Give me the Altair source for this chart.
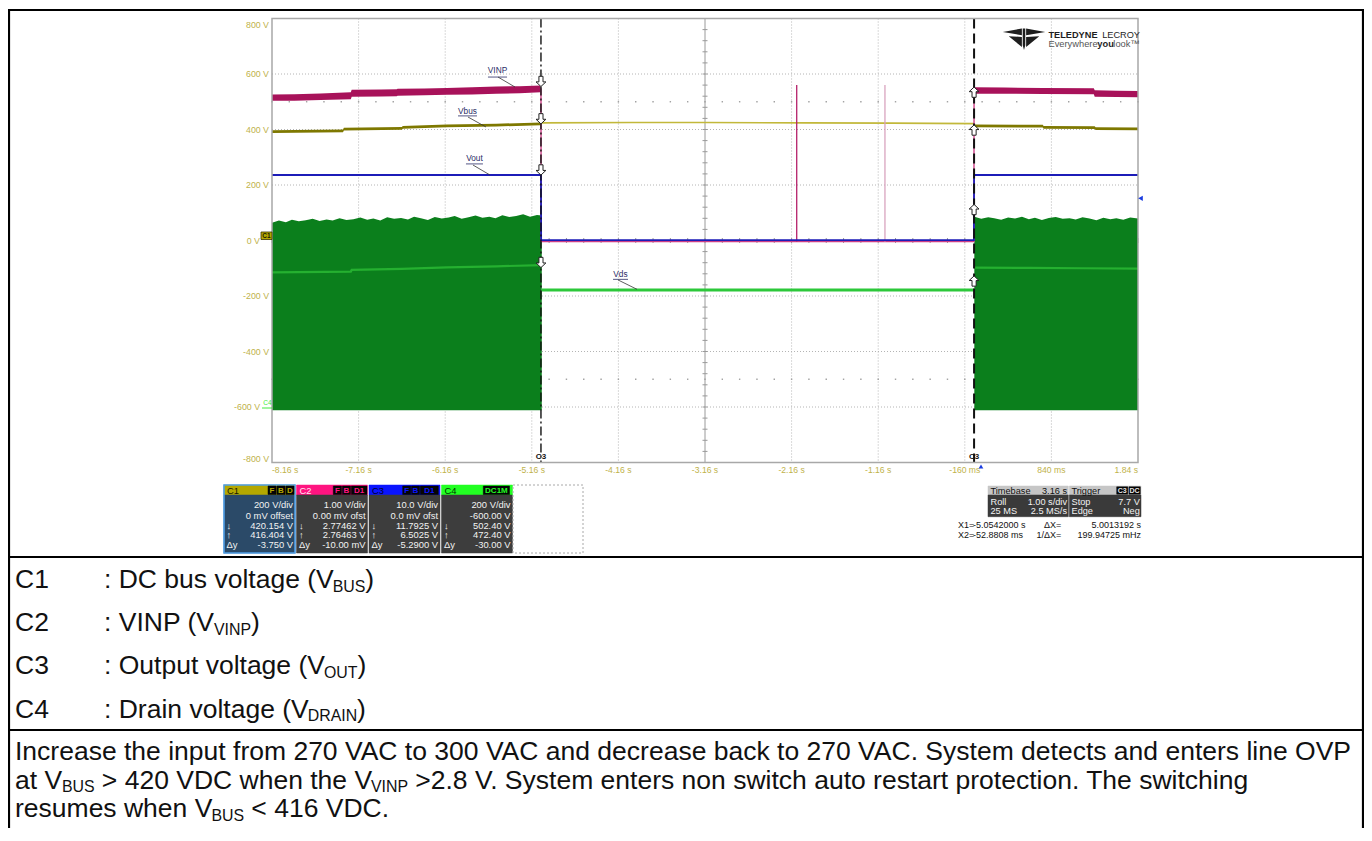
import altair as alt
import pandas as pd
import numpy as np

OFF = 8
CW, CH = 1356, 820

# ---------------- axis ticks ----------------
X_TICKS = [-8.16, -7.16, -6.16, -5.16, -4.16, -3.16, -2.16, -1.16, -0.16, 0.84, 1.84]
X_LABELS = ["-8.16 s", "-7.16 s", "-6.16 s", "-5.16 s", "-4.16 s", "-3.16 s",
            "-2.16 s", "-1.16 s", "-160 ms", "840 ms", "1.84 s"]
Y_TICKS = [800, 600, 400, 200, 0, -200, -400, -600, -800]
Y_LABELS = ["800 V", "600 V", "400 V", "200 V", "0 V", "-200 V", "-400 V", "-600 V", "-800 V"]

# ---------------- cursors ----------------
CURSOR_T = [-5.0542, -0.0528808]
X1_MARKS = [554.9, 420.2, 235.9, -97.6]     # C2, C1, C3, C4 at X1
X2_MARKS = [552.9, 416.4, 130.0, -127.6]    # C2, C1, C3, C4 at X2

# ---------------- C2 : VINP ----------------
VINP_PRE_T = [-8.16, -7.90, -7.60, -7.25, -7.24, -6.90, -6.72, -6.71, -6.40, -6.14, -5.85, -5.57, -5.30, -5.06]
VINP_PRE_LO = [504, 504, 506, 509, 518, 519, 520, 522, 523, 525, 526, 529, 531, 534]
VINP_PRE_HI = [526, 527, 530, 534, 543, 544, 545, 547, 548, 550, 552, 555, 556, 559]
VINP_OFF_T = [-5.06, -5.054, -5.052, -0.055, -0.053, -0.05]
VINP_OFF_V = [546, 546, -4, -4, 541, 541]
VINP_SPIKE_T = [-2.101, -1.082]
VINP_SPIKE_V = [560, 560]
VINP_POST_T = [-0.05, 0.30, 0.74, 1.33, 1.34, 1.60, 1.84]
VINP_POST_LO = [529, 529, 528, 527, 518, 517, 516]
VINP_POST_HI = [552, 551, 550, 549, 541, 540, 539]

# ---------------- C1 : Vbus ----------------
VBUS_PRE_T = [-8.16, -7.34, -7.33, -6.66, -6.65, -6.14, -5.57, -5.06]
VBUS_PRE_LO = [387, 390, 396, 399, 403, 408, 411, 415]
VBUS_PRE_HI = [397, 400, 406, 409, 413, 418, 421, 425]
VBUS_OFF_T = [-5.054, -4.0, -3.16, -2.0, -1.0, -0.053]
VBUS_OFF_V = [424, 425, 425, 424, 423, 421]
VBUS_POST_T = [-0.053, 0.74, 0.75, 1.34, 1.35, 1.84]
VBUS_POST_LO = [408, 407, 403, 402, 398, 397]
VBUS_POST_HI = [418, 417, 413, 412, 408, 407]

# ---------------- C3 : Vout ----------------
VOUT_T = [-8.16, -5.0542, -5.0520, -0.0550, -0.0529, 1.84]
VOUT_V = [236, 236, 1, 1, 236, 236]

# ---------------- C4 : Vds ----------------
VDS_FLOOR = -612
VDS_PRE_T = [-8.16, -8.08, -8.00, -7.93, -7.85, -7.77, -7.69, -7.61, -7.53, -7.46, -7.38,
             -7.30, -7.22, -7.14, -7.06, -6.99, -6.91, -6.83, -6.75, -6.67, -6.59, -6.52,
             -6.44, -6.36, -6.28, -6.20, -6.12, -6.05, -5.97, -5.89, -5.81, -5.73, -5.65,
             -5.58, -5.50, -5.42, -5.34, -5.26, -5.18, -5.10, -5.045]
VDS_PRE_TOP = [64, 72, 66, 75, 69, 73, 78, 70, 76, 72, 80, 74, 77, 83, 75, 79, 72, 84, 78, 81,
               76, 86, 80, 74, 85, 79, 83, 88, 78, 84, 90, 82, 86, 80, 91, 85, 88, 95, 86, 92, 90]
VDS_PRE_MID_T = [-8.16, -7.25, -7.24, -6.66, -6.14, -5.57, -5.045]
VDS_PRE_MID_V = [-115, -112, -106, -102, -97, -93, -89]
VDS_OFF_T = [-5.045, -0.055]
VDS_OFF_V = [-178, -178]
VDS_POST_T = [-0.05, 0.03, 0.11, 0.18, 0.26, 0.34, 0.42, 0.50, 0.58, 0.65, 0.73, 0.81, 0.89,
              0.97, 1.05, 1.12, 1.20, 1.28, 1.36, 1.44, 1.52, 1.59, 1.67, 1.75, 1.84]
VDS_POST_TOP = [86, 78, 84, 80, 75, 83, 79, 86, 77, 82, 74, 81, 85, 78, 80, 76, 84, 79, 73, 82,
                77, 80, 75, 83, 79]
VDS_POST_MID_T = [-0.05, 0.6, 1.2, 1.84]
VDS_POST_MID_V = [-98, -99, -100, -101]

# ---------------- trace labels ----------------
TRACE_NAMES = ["VINP", "Vbus", "Vout", "Vds"]
TRACE_LABEL_T = [-5.556, -5.902, -5.822, -4.136]
TRACE_LABEL_V = [611, 463, 294, -124]
UNDER_T0 = [-5.666, -6.012, -5.920, -4.222]
UNDER_T1 = [-5.446, -5.793, -5.724, -4.049]
UNDER_V = [589, 449, 276, -140]
LEAD_T0 = [-5.550, -5.897, -5.839, -4.165]
LEAD_V0 = [589, 445, 272, -142]
LEAD_T1 = [-5.354, -5.689, -5.643, -3.945]
LEAD_V1 = [553, 409, 236, -176]

# ---------------- info boxes ----------------
CH_NAMES = ["C1", "C2", "C3", "C4"]
CH_TAGS = [["F", "B", "D"], ["F", "B", "D1"], ["F", "B", "D1"], ["DC1M"]]
CH_ROWS = [["200 V/div", "0 mV offset", "420.154 V", "416.404 V", "-3.750 V"],
           ["1.00 V/div", "0.00 mV ofst", "2.77462 V", "2.76463 V", "-10.00 mV"],
           ["10.0 V/div", "0.0 mV ofst", "11.7925 V", "6.5025 V", "-5.2900 V"],
           ["200 V/div", "-600.00 V", "502.40 V", "472.40 V", "-30.00 V"]]
ROW_SYMS = ["", "", "\u2193", "\u2191", "\u0394y"]
TB_ROWS = [("Timebase", "3.16 s"), ("Roll", "1.00 s/div"), ("25 MS", "2.5 MS/s")]
TRIG_ROWS = [("Trigger", ""), ("Stop", "7.7 V"), ("Edge", "Neg")]
TRIG_TAGS = ["C3", "DC"]
CURSOR_ROWS = [("X1=", "-5.0542000 s", "\u0394X=", "5.0013192 s"),
               ("X2=", "-52.8808 ms", "1/\u0394X=", "199.94725 mHz")]

# ---------------- document text ----------------
LEG_CH = ["C1", "C2", "C3", "C4"]
LEG_MAIN = [": DC bus voltage (V", ": VINP (V", ": Output voltage (V", ": Drain voltage (V"]
LEG_SUB = ["BUS", "VINP", "OUT", "DRAIN"]
PARA = [
    [("Increase the input from 270 VAC to 300 VAC and decrease back to 270 VAC. System detects and enters line OVP", False)],
    [("at V", False), ("BUS", True), (" > 420 VDC when the V", False), ("VINP", True),
     (" >2.8 V. System enters non switch auto restart protection. The switching", False)],
    [("resumes when V", False), ("BUS", True), (" < 416 VDC.", False)],
]

# =====================================================================
AW = {' ': 278, '!': 278, '(': 333, ')': 333, ',': 278, '-': 333, '.': 278, '/': 278, ':': 278,
      '<': 584, '=': 584, '>': 584,
      'A': 667, 'B': 667, 'C': 722, 'D': 722, 'E': 667, 'F': 611, 'G': 778, 'H': 722, 'I': 278,
      'J': 500, 'K': 667, 'L': 556, 'M': 833, 'N': 722, 'O': 778, 'P': 667, 'Q': 778, 'R': 722,
      'S': 667, 'T': 611, 'U': 722, 'V': 667, 'W': 944, 'X': 667, 'Y': 667, 'Z': 611,
      'a': 556, 'b': 556, 'c': 500, 'd': 556, 'e': 556, 'f': 278, 'g': 556, 'h': 556, 'i': 222,
      'j': 222, 'k': 500, 'l': 222, 'm': 833, 'n': 556, 'o': 556, 'p': 556, 'q': 556, 'r': 333,
      's': 500, 't': 278, 'u': 556, 'v': 500, 'w': 722, 'x': 500, 'y': 500, 'z': 500}
KREN = 0.995   # rendered / nominal advance ratio observed


def em(s, bold=False):
    w = sum(AW.get(c, 556) for c in s) / 1000.0 * KREN
    return w * (1.07 if bold else 1.0)


FONT = "Liberation Sans"
XS = alt.Scale(domain=[-8.16, 1.84], range=[272 - OFF, 1138 - OFF], nice=False, zero=False)
YS = alt.Scale(domain=[-800, 800], range=[462.5 - OFF, 18.5 - OFF], nice=False, zero=False)


def X(f):
    return alt.X(f, type="quantitative", scale=XS, axis=None)


def Y(f):
    return alt.Y(f, type="quantitative", scale=YS, axis=None)


def PX(f):
    return alt.X(f, type="quantitative", scale=None, axis=None)


def PY(f):
    return alt.Y(f, type="quantitative", scale=None, axis=None)


def ptext(rows, size, align="left", baseline="middle", weight="normal", font=FONT):
    df = pd.DataFrame(rows, columns=["x", "y", "t", "c"])
    df["x"] = df["x"] - OFF
    df["y"] = df["y"] - OFF
    return alt.Chart(df).mark_text(font=font, fontSize=size, align=align, baseline=baseline,
                                   fontWeight=weight).encode(
        x=PX("x"), y=PY("y"), text="t:N", color=alt.Color("c:N", scale=None))


def prects(rows, sw=1, dash=None):
    df = pd.DataFrame(rows, columns=["x0", "y0", "x1", "y1", "f", "s"])
    for c in ["x0", "x1", "y0", "y1"]:
        df[c] = df[c] - OFF
    kw = dict(strokeWidth=sw)
    if dash:
        kw["strokeDash"] = dash
    return alt.Chart(df).mark_rect(**kw).encode(
        x=PX("x0"), x2="x1:Q", y=PY("y0"), y2="y1:Q",
        fill=alt.Fill("f:N", scale=None), stroke=alt.Stroke("s:N", scale=None))


def prules(rows, sw=1, dash=None):
    df = pd.DataFrame(rows, columns=["x0", "y0", "x1", "y1", "c"])
    for c in ["x0", "x1", "y0", "y1"]:
        df[c] = df[c] - OFF
    kw = dict(strokeWidth=sw)
    if dash:
        kw["strokeDash"] = dash
    return alt.Chart(df).mark_rule(**kw).encode(
        x=PX("x0"), x2="x1:Q", y=PY("y0"), y2="y1:Q", color=alt.Color("c:N", scale=None))


L = []

# ---------------- grid ----------------
GRID = "#B4B4B4"
L.append(alt.Chart(pd.DataFrame({"t": [t for t in X_TICKS[1:-1] if t != -3.16]})).mark_rule(
    color=GRID, strokeWidth=1, strokeDash=[1, 2]).encode(
    x=X("t"), y=alt.value(18.5 - OFF), y2=alt.value(462.5 - OFF)))
L.append(alt.Chart(pd.DataFrame({"v": [v for v in Y_TICKS[1:-1] if v != 0]})).mark_rule(
    color=GRID, strokeWidth=1, strokeDash=[1, 2]).encode(
    y=Y("v"), x=alt.value(272 - OFF), x2=alt.value(1138 - OFF)))
L.append(alt.Chart(pd.DataFrame({"t": [-3.16]})).mark_rule(color="#9A9A9A", strokeWidth=1).encode(
    x=X("t"), y=alt.value(18.5 - OFF), y2=alt.value(462.5 - OFF)))
L.append(alt.Chart(pd.DataFrame({"v": [0]})).mark_rule(color="#9A9A9A", strokeWidth=1).encode(
    y=Y("v"), x=alt.value(272 - OFF), x2=alt.value(1138 - OFF)))
tick_v = np.arange(-800, 801, 40)
L.append(alt.Chart(pd.DataFrame({"t": -3.16, "v": tick_v})).mark_rule(
    color="#9A9A9A", strokeWidth=1, xOffset=-2.5, x2Offset=2.5).encode(x=X("t"), x2="t:Q", y=Y("v")))
tick_t = np.round(np.arange(-8.16, 1.85, 0.2), 3)
L.append(alt.Chart(pd.DataFrame({"t": tick_t, "v": 0})).mark_rule(
    color="#9A9A9A", strokeWidth=1, yOffset=-2.5, y2Offset=2.5).encode(x=X("t"), y=Y("v"), y2="v:Q"))
dots = pd.DataFrame([(t, v) for v in (500, -500) for t in tick_t], columns=["t", "v"])
L.append(alt.Chart(dots).mark_square(size=2, color="#A0A0A0", opacity=1).encode(x=X("t"), y=Y("v")))

# ---------------- C4 Vds ----------------
GREEN = "#0B7F1C"
for tt, top in ((VDS_PRE_T, VDS_PRE_TOP), (VDS_POST_T, VDS_POST_TOP)):
    df = pd.DataFrame({"t": tt, "top": top, "lo": VDS_FLOOR})
    L.append(alt.Chart(df).mark_area(color=GREEN, opacity=1).encode(x=X("t"), y=Y("lo"), y2="top:Q"))
for tt, vv in ((VDS_PRE_MID_T, VDS_PRE_MID_V), (VDS_POST_MID_T, VDS_POST_MID_V)):
    L.append(alt.Chart(pd.DataFrame({"t": tt, "v": vv})).mark_line(color="#25B030", strokeWidth=2.2).encode(
        x=X("t"), y=Y("v")))
L.append(alt.Chart(pd.DataFrame({"t": VDS_OFF_T, "v": VDS_OFF_V})).mark_line(
    color="#2CC83A", strokeWidth=3).encode(x=X("t"), y=Y("v")))

# ---------------- C1 Vbus ----------------
OLIVE = "#7E7800"
for tt, lo, hi in ((VBUS_PRE_T, VBUS_PRE_LO, VBUS_PRE_HI), (VBUS_POST_T, VBUS_POST_LO, VBUS_POST_HI)):
    df = pd.DataFrame({"t": tt, "lo": lo, "hi": hi})
    L.append(alt.Chart(df).mark_area(color=OLIVE, opacity=1).encode(x=X("t"), y=Y("lo"), y2="hi:Q"))
L.append(alt.Chart(pd.DataFrame({"t": VBUS_OFF_T, "v": VBUS_OFF_V})).mark_line(
    color="#C2B83A", strokeWidth=1.6).encode(x=X("t"), y=Y("v")))

# ---------------- C2 VINP ----------------
CRIMSON = "#A8125A"
for tt, lo, hi in ((VINP_PRE_T, VINP_PRE_LO, VINP_PRE_HI), (VINP_POST_T, VINP_POST_LO, VINP_POST_HI)):
    df = pd.DataFrame({"t": tt, "lo": lo, "hi": hi})
    L.append(alt.Chart(df).mark_area(color=CRIMSON, opacity=1).encode(x=X("t"), y=Y("lo"), y2="hi:Q"))
L.append(alt.Chart(pd.DataFrame({"t": VINP_OFF_T, "v": VINP_OFF_V})).mark_line(
    color="#CC3F86", strokeWidth=1.4).encode(x=X("t"), y=Y("v")))
L.append(alt.Chart(pd.DataFrame({"t": VINP_SPIKE_T, "v": VINP_SPIKE_V, "z": [-4, -4],
                                 "c": ["#B5206A", "#D9A3BE"]})).mark_rule(strokeWidth=1.3).encode(
    x=X("t"), y=Y("z"), y2="v:Q", color=alt.Color("c:N", scale=None)))

# ---------------- C3 Vout ----------------
L.append(alt.Chart(pd.DataFrame({"t": VOUT_T, "v": VOUT_V})).mark_line(
    color="#1C1CB8", strokeWidth=1.8).encode(x=X("t"), y=Y("v")))

# ---------------- cursors ----------------
L.append(alt.Chart(pd.DataFrame({"t": [CURSOR_T[0]]})).mark_rule(
    color="#111111", strokeWidth=1.4, strokeDash=[9, 3, 2, 3]).encode(
    x=X("t"), y=alt.value(18.5 - OFF), y2=alt.value(462.5 - OFF)))
L.append(alt.Chart(pd.DataFrame({"t": [CURSOR_T[1]]})).mark_rule(
    color="#111111", strokeWidth=2, strokeDash=[10, 5]).encode(
    x=X("t"), y=alt.value(18.5 - OFF), y2=alt.value(462.5 - OFF)))
DOWN = "M-0.2,-1 L0.2,-1 L0.2,-0.45 L0.48,-0.45 L0,0 L-0.48,-0.45 L-0.2,-0.45 Z"
UP = "M-0.2,1 L0.2,1 L0.2,0.45 L0.48,0.45 L0,0 L-0.48,0.45 L-0.2,0.45 Z"
L.append(alt.Chart(pd.DataFrame({"t": CURSOR_T[0], "v": X1_MARKS})).mark_point(
    shape=DOWN, size=420, filled=True, fill="white", stroke="#222222", strokeWidth=1, opacity=1).encode(
    x=X("t"), y=Y("v")))
L.append(alt.Chart(pd.DataFrame({"t": CURSOR_T[1], "v": X2_MARKS})).mark_point(
    shape=UP, size=420, filled=True, fill="white", stroke="#222222", strokeWidth=1, opacity=1).encode(
    x=X("t"), y=Y("v")))
L.append(alt.Chart(pd.DataFrame({"t": CURSOR_T, "lab": ["C3", "C3"]})).mark_text(
    font=FONT, fontSize=8, fontWeight="bold", color="#111111", baseline="middle").encode(
    x=X("t"), y=alt.value(456.5 - OFF), text="lab:N"))

# ---------------- trace name labels ----------------
lab = pd.DataFrame({"name": TRACE_NAMES, "t": TRACE_LABEL_T, "v": TRACE_LABEL_V,
                    "u0": UNDER_T0, "u1": UNDER_T1, "uv": UNDER_V,
                    "l0": LEAD_T0, "lv0": LEAD_V0, "l1": LEAD_T1, "lv1": LEAD_V1})
LABC = "#2A2C66"
L.append(alt.Chart(lab).mark_text(font=FONT, fontSize=8.3, color=LABC, baseline="middle").encode(
    x=X("t"), y=Y("v"), text="name:N"))
L.append(alt.Chart(lab).mark_rule(color=LABC, strokeWidth=0.8).encode(x=X("u0"), x2="u1:Q", y=Y("uv")))
L.append(alt.Chart(lab).mark_rule(color="#333333", strokeWidth=0.8).encode(
    x=X("l0"), x2="l1:Q", y=Y("lv0"), y2="lv1:Q"))

# ---------------- plot frame ----------------
L.append(prects([(272, 18.5, 1138, 462.5, "transparent", "#A8A8A8")], sw=1.5))

# ---------------- axis labels ----------------
YLC = "#C0B24A"
ydf = pd.DataFrame({"v": Y_TICKS, "lab": Y_LABELS})
L.append(alt.Chart(ydf[~ydf.v.isin([800, -800, 0, -600])]).mark_text(
    font=FONT, fontSize=8.8, color=YLC, align="right", baseline="middle").encode(
    x=alt.value(269 - OFF), y=Y("v"), text="lab:N"))
L.append(alt.Chart(ydf[ydf.v.isin([0, -600])]).mark_text(
    font=FONT, fontSize=8.8, color=YLC, align="right", baseline="middle").encode(
    x=alt.value(260 - OFF), y=Y("v"), text="lab:N"))
L.append(alt.Chart(ydf[ydf.v == 800]).mark_text(
    font=FONT, fontSize=8.8, color=YLC, align="right", baseline="middle", dy=6).encode(
    x=alt.value(269 - OFF), y=Y("v"), text="lab:N"))
L.append(alt.Chart(ydf[ydf.v == -800]).mark_text(
    font=FONT, fontSize=8.8, color=YLC, align="right", baseline="middle", dy=-4).encode(
    x=alt.value(269 - OFF), y=Y("v"), text="lab:N"))
xdf = pd.DataFrame({"t": X_TICKS, "lab": X_LABELS})
for sub, al in ((xdf.iloc[:1], "left"), (xdf.iloc[1:-1], "center"), (xdf.iloc[-1:], "right")):
    L.append(alt.Chart(sub).mark_text(font=FONT, fontSize=8.6, color=YLC, align=al, baseline="middle").encode(
        x=X("t"), y=alt.value(470 - OFF), text="lab:N"))

# channel markers on the left axis
L.append(prects([(261, 232, 272, 239.5, "#B4A800", "#3A3500")], sw=0.8))
L.append(ptext([(266.5, 236, "C1", "#1A1A00")], 6.5, align="center", weight="bold"))
L.append(ptext([(267.5, 403, "C4", "#3EEB3E")], 6.5, align="center"))
L.append(prules([(262, 408, 272, 408, "#3EEB3E")], sw=1))

# trigger markers
tri = pd.DataFrame({"x": [1140.5 - OFF], "y": [198.3 - OFF]})
L.append(alt.Chart(tri).mark_point(shape="triangle-left", size=28, filled=True, color="#1A3CE0",
                                   opacity=1).encode(x=PX("x"), y=PY("y")))
tri2 = pd.DataFrame({"x": [981 - OFF], "y": [466.5 - OFF]})
L.append(alt.Chart(tri2).mark_point(shape="triangle-up", size=22, filled=True, color="#1A3CE0",
                                    opacity=1).encode(x=PX("x"), y=PY("y")))

# ---------------- logo ----------------
LOGO = ("M-1,-0.33 L-0.1,-0.5 L-0.1,-0.18 Z M-0.72,-0.13 L-0.1,-0.1 L-0.1,0.38 Z "
        "M1,-0.33 L0.1,-0.5 L0.1,-0.18 Z M0.72,-0.13 L0.1,-0.1 L0.1,0.38 Z "
        "M-0.06,-0.5 L0.06,-0.5 L0.06,0.3 L0,0.52 L-0.06,0.3 Z")
L.append(alt.Chart(pd.DataFrame({"x": [1024 - OFF], "y": [39 - OFF]})).mark_point(
    shape=LOGO, size=1800, filled=True, color="#1E1E1E", opacity=1).encode(x=PX("x"), y=PY("y")))
lx = 1048.5
L.append(ptext([(lx, 34.5, "TELEDYNE", "#1E1E1E")], 9.2, weight="bold"))
L.append(ptext([(lx + em("TELEDYNE", True) * 9.2 + 2, 34.5, "LECROY", "#1E1E1E")], 9.2))
w1 = em("Everywhere") * 9.3
L.append(ptext([(lx, 43.8, "Everywhere", "#555555"),
                (lx + w1 + em("you", True) * 9.3, 43.8, "look\u2122", "#555555")], 9.3))
L.append(ptext([(lx + w1, 43.8, "you", "#1E1E1E")], 9.3, weight="bold"))

# ---------------- channel info boxes ----------------
BOX_L = [224, 296.5, 369, 441.5]
BOX_W = 71
HDR = ["#B4A800", "#FF1480", "#0A14FF", "#22FF22"]
HDR_TXT = ["#1A1A00", "#FFE6F2", "#00002A", "#003300"]
BODY = ["#2B4A68", "#3D3D3D", "#3D3D3D", "#3D3D3D"]
TAG_X = [[(268, 276), (276.8, 285), (285.8, 294)],
         [(333.3, 341.5), (342.3, 350.5), (351.3, 367)],
         [(402.7, 410.7), (411.5, 419.5), (420.3, 438.3)],
         [(483.3, 509.5)]]
rect_rows, tag_rows, tag_txt, hdr_txt, body_r, body_l = [], [], [], [], [], []
ROW_Y = [504.5, 515.5, 525.5, 535, 544.5]
for i in range(4):
    x0 = BOX_L[i]
    rect_rows.append((x0, 485, x0 + BOX_W, 495, HDR[i], HDR[i]))
    rect_rows.append((x0, 495, x0 + BOX_W, 553, BODY[i], BODY[i]))
    hdr_txt.append((x0 + 3, 490.5, CH_NAMES[i], HDR_TXT[i]))
    for (a, b), tg in zip(TAG_X[i], CH_TAGS[i]):
        tag_rows.append((a, 486, b, 494.5, "#050505", "#050505"))
        tag_txt.append(((a + b) / 2, 490.5, tg, HDR[i]))
    for j in range(5):
        body_r.append((x0 + BOX_W - 2, ROW_Y[j], CH_ROWS[i][j], "#F2F2F2"))
        if ROW_SYMS[j]:
            body_l.append((x0 + 2.5, ROW_Y[j], ROW_SYMS[j], "#F2F2F2"))
L.append(prects(rect_rows, sw=0.5))
L.append(prects([(BOX_L[0], 485, BOX_L[0] + BOX_W, 553, "transparent", "#4F9FE6")], sw=1.6))
L.append(prects([(513, 485, 583, 553, "transparent", "#A8A8A8")], sw=1, dash=[2, 2]))
L.append(prects(tag_rows, sw=0.5))
L.append(ptext(hdr_txt, 9.4))
L.append(ptext(tag_txt, 8, align="center", weight="bold"))
L.append(ptext(body_r, 9.4, align="right"))
L.append(ptext(body_l, 9.4))

# timebase / trigger
tb_rects = [(988, 486, 1068.3, 495, "#C6C6C6", "#C6C6C6"), (988, 495, 1068.3, 516.7, "#3A3A3A", "#3A3A3A"),
            (1069.3, 486, 1141, 495, "#C6C6C6", "#C6C6C6"), (1069.3, 495, 1141, 516.7, "#3A3A3A", "#3A3A3A"),
            (1116.7, 486.8, 1127.8, 494.2, "#050505", "#050505"),
            (1129, 486.8, 1140.3, 494.2, "#050505", "#050505")]
L.append(prects(tb_rects, sw=0.5))
TB_Y = [490.8, 501.5, 511]
tbl, tbr = [], []
for j in range(3):
    col = "#111111" if j == 0 else "#F2F2F2"
    tbl.append((990.5, TB_Y[j], TB_ROWS[j][0], col))
    tbr.append((1067, TB_Y[j], TB_ROWS[j][1], col))
    tbl.append((1071.5, TB_Y[j], TRIG_ROWS[j][0], col))
    if TRIG_ROWS[j][1]:
        tbr.append((1139.8, TB_Y[j], TRIG_ROWS[j][1], col))
L.append(ptext(tbl, 9.2))
L.append(ptext(tbr, 9.2, align="right"))
L.append(ptext([(1122.2, 490.6, TRIG_TAGS[0], "#E6E6E6"), (1134.6, 490.6, TRIG_TAGS[1], "#E6E6E6")],
               7, align="center", weight="bold"))
cl, cr = [], []
for j, (a, b, c, d) in enumerate(CURSOR_ROWS):
    yy = 524.5 + j * 10.7
    cl.append((958, yy, a, "#111111"))
    cl.append((973, yy, b, "#111111"))
    cr.append((1061.3, yy, c, "#111111"))
    cr.append((1141, yy, d, "#111111"))
L.append(ptext(cl, 9))
L.append(ptext(cr, 9, align="right"))

# ---------------- document table lines ----------------
BLK = "#000000"
RB = 1363
L.append(prules([(9, 10, RB, 10, BLK), (9, 557, RB, 557, BLK), (9, 730, RB, 730, BLK),
                 (9, 9, 9, 845, BLK), (RB, 9, RB, 845, BLK)], sw=2.2))

# ---------------- document text ----------------
FS = 1336.0 / em(PARA[0][0][0])
SFS = FS * 0.6
SUB_DY = FS * 0.14
SP = em(" ")
LEG_BASE = [588, 631, 674, 717.5]
LEG_COLON_X = 104
big, small = [], []


def put(lst, x, y, s, size):
    # SVG drops leading blanks, so advance the pen by hand
    n = len(s) - len(s.lstrip(" "))
    x += n * SP * size
    s = s.lstrip(" ")
    lst.append((x, y, s, "#111111"))
    return x + em(s) * size


for i in range(4):
    b = LEG_BASE[i]
    put(big, 15, b, LEG_CH[i], FS)
    x = put(big, LEG_COLON_X, b, LEG_MAIN[i], FS)
    x = put(small, x, b + SUB_DY, LEG_SUB[i], SFS)
    put(big, x, b, ")", FS)
PARA_BASE = [760, 788.5, 817]
for i, pieces in enumerate(PARA):
    x = 15
    for s, is_sub in pieces:
        if is_sub:
            x = put(small, x, PARA_BASE[i] + SUB_DY, s, SFS)
        else:
            x = put(big, x, PARA_BASE[i], s, FS)
L.append(ptext(big, FS, baseline="alphabetic"))
L.append(ptext(small, SFS, baseline="alphabetic"))

chart = alt.layer(*L).resolve_scale(
    x="independent", y="independent", color="independent", fill="independent", stroke="independent"
).properties(width=CW, height=CH, padding=0, autosize="none", background="white"
             ).configure_view(stroke=None)

chart.save("out.html", embed_options={"renderer": "svg", "actions": False})
